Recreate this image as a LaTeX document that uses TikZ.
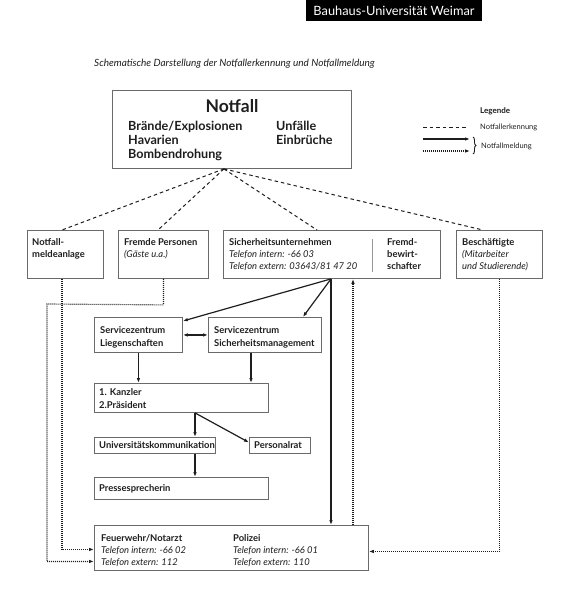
\documentclass[tikz,border=0pt]{standalone}
\usepackage{fontspec}
\setmainfont{Lato}
\usetikzlibrary{arrows.meta,calc,decorations.pathreplacing}
\definecolor{boxgray}{HTML}{6A6A6A}
\definecolor{ink}{HTML}{1E1E1E}
\begin{document}
\begin{tikzpicture}[x=1pt,y=-1pt,
  box/.style={draw=boxgray, line width=0.9pt, anchor=north west, inner sep=0pt, fill=white},
  txt/.style={anchor=base west, inner sep=0pt, align=left, text=ink, font=\fontsize{9.4}{12}\selectfont},
  btxt/.style={txt, font=\fontsize{9.4}{12}\selectfont\bfseries},
  btxtw/.style={txt, font=\fontsize{9.4}{13}\selectfont\bfseries},
  bigtxt/.style={anchor=base west, inner sep=0pt, align=left, text=ink, font=\fontsize{12.6}{14}\selectfont\bfseries},
  legtxt/.style={anchor=base west, inner sep=0pt, text=ink, font=\fontsize{7.5}{8}\selectfont},
  tip/.style={-{Latex[length=5pt,width=3.6pt]}},
  solidarrow/.style={tip, draw=ink, line width=1.2pt},
  dotline/.style={draw=ink, line width=1.15pt, dash pattern=on 1pt off 1pt},
  dotarrow/.style={dotline, -{Latex[length=5pt,width=3.6pt]}},
  dashline/.style={draw=ink, line width=1pt, dash pattern=on 3.5pt off 3pt}
]
\useasboundingbox (0,0) rectangle (568,600);

% header
\node[anchor=north west, fill=black, minimum width=176pt, minimum height=21pt, inner sep=0pt] (hdr) at (306,0) {};
\node[anchor=base, text=white, font=\fontsize{12.8}{14}\selectfont, inner sep=0pt] (hdrt) at (394,15) {Bauhaus-Universität Weimar};

% subtitle
\node[txt, font=\fontsize{10}{12}\selectfont\itshape] (sub) at (94,66) {Schematische Darstellung der Notfallerkennung und Notfallmeldung};

% Notfall box
\node[box, minimum width=239pt, minimum height=78pt] (nf) at (112,90) {};
\node[anchor=base, inner sep=0pt, text=ink, font=\fontsize{17.5}{18}\selectfont\bfseries] (nft) at (232,112) {Notfall};
\node[bigtxt] (nfl) at (128,158.5) {Brände/Explosionen\\Havarien\\Bombendrohung};
\node[bigtxt] (nfr) at (276,144.5) {Unfälle\\Einbrüche};

% legend
\node[anchor=base west, inner sep=0pt, text=ink, font=\fontsize{8}{10}\selectfont\bfseries] (leg) at (480,113) {Legende};
\coordinate (l1a) at (423,127); \coordinate (l1b) at (468,127);
\coordinate (l2a) at (423,139); \coordinate (l2b) at (470,139);
\coordinate (l3a) at (423,151); \coordinate (l3b) at (470,151);
\draw[dashline] (l1a) -- (l1b);
\draw[solidarrow] (l2a) -- (l2b);
\draw[dotarrow] (l3a) -- (l3b);
\coordinate (bra) at (473,137); \coordinate (brb) at (473,154);
\draw[ink, line width=0.9pt, decorate, decoration={brace, amplitude=3pt}] (bra) -- (brb);
\node[legtxt] (leg1) at (480,129.5) {Notfallerkennung};
\node[legtxt] (leg2) at (481,148.5) {Notfallmeldung};

% row 2
\node[box, minimum width=76pt, minimum height=48pt] (nma) at (27,230) {};
\node[btxt] (nmat) at (32,257.5) {Notfall-\\meldeanlage};

\node[box, minimum width=90pt, minimum height=48pt] (fp) at (118,230) {};
\node[txt] (fpt) at (124,257.5) {\textbf{Fremde Personen}\\\textit{(Gäste u.a.)}};

\node[box, minimum width=217pt, minimum height=48pt] (su) at (223,230) {};
\node[txt] (sut) at (229,269.5) {\textbf{Sicherheitsunternehmen}\\\textit{Telefon intern: -66 03}\\\textit{Telefon extern: 03643/81 47 20}};
\coordinate (dva) at (372,239); \coordinate (dvb) at (372,272);
\draw[boxgray!70, line width=1pt] (dva) -- (dvb);
\node[btxt] (fbt) at (387,269.5) {Fremd-\\bewirt-\\schafter};

\node[box, minimum width=86pt, minimum height=48pt] (be) at (456,230) {};
\node[txt] (bet) at (462,269.5) {\textbf{Beschäftigte}\\\textit{(Mitarbeiter}\\\textit{und Studierende)}};

% row 3
\node[box, minimum width=88pt, minimum height=35pt] (szl) at (94,317) {};
\node[btxtw] (szlt) at (100,346) {Servicezentrum\\Liegenschaften};
\node[box, minimum width=113pt, minimum height=35pt] (szs) at (208,317) {};
\node[btxtw] (szst) at (214,346) {Servicezentrum\\Sicherheitsmanagement};

\node[box, minimum width=174pt, minimum height=29pt] (kz) at (94,383) {};
\node[btxtw] (kzt) at (99,408) {1. Kanzler\\2.Präsident};

\node[box, minimum width=121pt, minimum height=16pt] (uk) at (94,437) {};
\node[btxt] (ukt) at (99,448.5) {Universitätskommunikation};
\node[box, minimum width=61pt, minimum height=16pt] (pr) at (249,437) {};
\node[btxt] (prt) at (254,448.5) {Personalrat};

\node[box, minimum width=174pt, minimum height=22pt] (pp) at (94,477) {};
\node[btxt] (ppt) at (99,491.5) {Pressesprecherin};

\node[box, minimum width=274pt, minimum height=45pt] (fw) at (94,525) {};
\node[txt] (fwt) at (101,565) {\textbf{Feuerwehr/Notarzt}\\\textit{Telefon intern: -66 02}\\\textit{Telefon extern: 112}};
\node[txt] (pot) at (233,565) {\textbf{Polizei}\\\textit{Telefon intern: -66 01}\\\textit{Telefon extern: 110}};

% dashed recognition lines
\coordinate (apex) at ($(nf.south)+(-8,0)$);
\draw[dashline] (apex) -- ($(nma.north west)+(35,0)$);
\draw[dashline] (apex) -- ($(fp.north west)+(40,0)$);
\draw[dashline] (apex) -- ($(su.north west)+(94,0)$);
\draw[dashline] (apex) -- ($(be.north west)+(27,0)$);

% solid report arrows
\coordinate (sus) at ($(su.south west)+(108,0)$);
\draw[solidarrow] (sus) -- ($(szl.north east)+(0,4)$);
\draw[solidarrow] (sus) -- ($(szs.north east)+(-19,0)$);
\draw[solidarrow] (sus) -- (sus |- fw.north);
\draw[draw=ink, line width=1.2pt, {Latex[length=5pt,width=3.6pt]}-{Latex[length=5pt,width=3.6pt]}] (szl.east) -- (szs.west);
\draw[solidarrow] (szl.south) -- (szl.south |- kz.north);
\coordinate (szsb) at ($(szs.south west)+(43,0)$);
\draw[solidarrow] (szsb) -- (szsb |- kz.north);
\coordinate (split) at ($(kz.south west)+(101,0)$);
\draw[solidarrow] (split) -- (split |- uk.north);
\draw[solidarrow] (split) -- ($(pr.west)+(0,-3)$);
\draw[solidarrow] (split |- uk.south) -- (split |- pp.north);

% dotted report lines
\coordinate (fwup) at ($(fw.north west)+(259,0)$);
\draw[dotarrow] (fwup) -- (fwup |- su.south);
\coordinate (nmas) at ($(nma.south west)+(35,0)$);
\draw[dotarrow] (nmas) |- ($(fw.west)+(0,1.5)$);
\coordinate (fpc) at ($(fp.south)+(0,26)$);
\coordinate (fpl) at (47,304);
\coordinate (fpd) at ($(fw.west)+(0,13.5)$);
\draw[dotarrow] (fp.south) -- (fpc) -- (fpl) |- (fpd);
\draw[dotarrow] (be.south) |- ($(fw.east)+(0,3.5)$);
\end{tikzpicture}
\end{document}
